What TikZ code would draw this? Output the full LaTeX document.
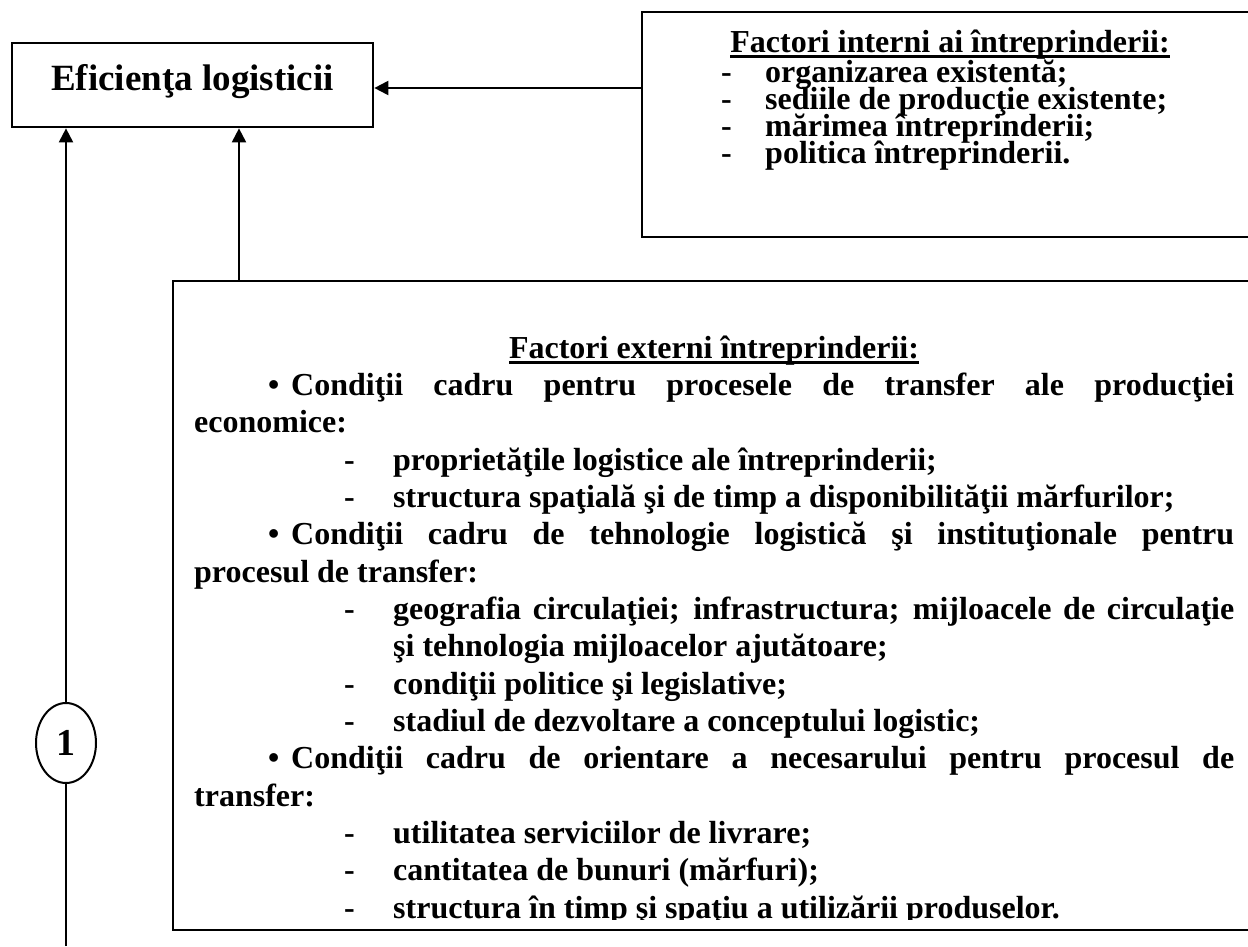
\documentclass[tikz,border=0pt]{standalone}
\usepackage{fontspec}
\setmainfont{Liberation Serif}
\usetikzlibrary{arrows.meta,shapes.geometric}
\newcommand\myul[1]{\setbox0\hbox{#1}\rlap{\rule[-6pt]{\wd0}{3pt}}\box0}
\begin{document}
\begin{tikzpicture}[x=1pt,y=-1pt,
  boxline/.style={draw=black,line width=2.7pt,inner sep=0pt},
  conn/.style={line width=2pt,-{Triangle[length=14pt,width=14pt]}},
  plain/.style={line width=2pt},
  txt/.style={anchor=base west,inner sep=0pt,font=\fontsize{32}{36}\selectfont\bfseries},
  ctxt/.style={txt,anchor=base}]
\useasboundingbox (0,0) rectangle (1248,946);
% boxes
\node[boxline,minimum width=361pt,text height=47pt,text depth=37pt,
  font=\fontsize{37}{40}\selectfont\bfseries] (eff) at (192.5,85) {Eficienţa logisticii};
\node[boxline,minimum width=610pt,minimum height=225pt] (int) at (947,124.5) {};
\node[boxline,minimum width=1079pt,minimum height=649pt] (ext) at (712.5,605.5) {};
\node[draw,line width=2pt,ellipse,inner sep=0pt,minimum width=60pt,minimum height=80pt,
  font=\fontsize{38}{40}\selectfont\bfseries] (c1) at (66,743) {1};
% connectors
\coordinate (bot) at (66,946);
\coordinate (a2) at (239,281);
\draw[conn] (int.west |- 0,88) -- (eff.east |- 0,88);
\draw[conn] (a2) -- (a2 |- eff.south);
\draw[plain] (bot) -- (c1.south);
\draw[conn] (c1.north) -- (c1.north |- eff.south);
% internal factors
\node[ctxt] (it) at (950,52) {\myul{Factori interni ai întreprinderii:}};
\node[txt] (id1) at (721,82) {-};
\node[txt] (i1) at (765,82) {organizarea existentă;};
\node[txt] (id2) at (721,109) {-};
\node[txt] (i2) at (765,109) {sediile de producţie existente;};
\node[txt] (id3) at (721,136) {-};
\node[txt] (i3) at (765,136) {mărimea întreprinderii;};
\node[txt] (id4) at (721,163) {-};
\node[txt] (i4) at (765,163) {politica întreprinderii.};
% external factors
\begin{scope}
\clip (173,281) rectangle (1250,919);
\node[ctxt] (et) at (714,358) {\myul{Factori externi întreprinderii:}};
\node[txt] (b1) at (268,395.3) {•};
\node[txt] (e1) at (291,395.3) {\makebox[943pt][s]{Condiţii cadru pentru procesele de transfer ale producţiei}};
\node[txt] (e2) at (194,432.7) {economice:};
\node[txt] (d3) at (344,470) {-};
\node[txt] (e3) at (393,470) {proprietăţile logistice ale întreprinderii;};
\node[txt] (d4) at (344,507.3) {-};
\node[txt] (e4) at (393,507.3) {structura spaţială şi de timp a disponibilităţii mărfurilor;};
\node[txt] (b5) at (268,544.7) {•};
\node[txt] (e5) at (291,544.7) {\makebox[943pt][s]{Condiţii cadru de tehnologie logistică şi instituţionale pentru}};
\node[txt] (e6) at (194,582) {procesul de transfer:};
\node[txt] (d7) at (344,619.3) {-};
\node[txt] (e7) at (393,619.3) {\makebox[841pt][s]{geografia circulaţiei; infrastructura; mijloacele de circulaţie}};
\node[txt] (e8) at (393,656.7) {şi tehnologia mijloacelor ajutătoare;};
\node[txt] (d9) at (344,694) {-};
\node[txt] (e9) at (393,694) {condiţii politice şi legislative;};
\node[txt] (d10) at (344,731.3) {-};
\node[txt] (e10) at (393,731.3) {stadiul de dezvoltare a conceptului logistic;};
\node[txt] (b11) at (268,768.7) {•};
\node[txt] (e11) at (291,768.7) {\makebox[943pt][s]{Condiţii cadru de orientare a necesarului pentru procesul de}};
\node[txt] (e12) at (194,806) {transfer:};
\node[txt] (d13) at (344,843.3) {-};
\node[txt] (e13) at (393,843.3) {utilitatea serviciilor de livrare;};
\node[txt] (d14) at (344,880.7) {-};
\node[txt] (e14) at (393,880.7) {cantitatea de bunuri (mărfuri);};
\node[txt] (d15) at (344,918) {-};
\node[txt] (e15) at (393,918) {structura în timp şi spaţiu a utilizării produselor.};
\end{scope}
\end{tikzpicture}
\end{document}
